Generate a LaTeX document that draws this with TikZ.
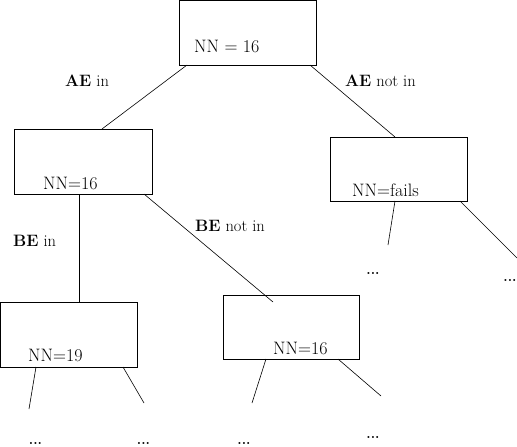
\documentclass[tikz,border=0pt]{standalone}
\begin{document}
\begin{tikzpicture}[x=1pt,y=-1pt,
  box/.style={draw,line width=0.8pt,rectangle,inner sep=0pt},
  conn/.style={line width=0.6pt},
  val/.style={anchor=base west,inner sep=0pt,font=\fontsize{18}{20}\selectfont},
  lab/.style={anchor=base west,inner sep=0pt,font=\fontsize{16.5}{19}\selectfont},
  dots/.style={inner sep=0pt,font=\fontsize{14}{16}\selectfont\bfseries}]
\useasboundingbox (0,0) rectangle (517,447);
% boxes
\node[box,minimum width=137pt,minimum height=64.5pt] (root) at (247.5,32.8) {};
\node[box,minimum width=138pt,minimum height=65pt] (L) at (83,161.5) {};
\node[box,minimum width=137pt,minimum height=64pt] (R) at (398.5,169) {};
\node[box,minimum width=136.5pt,minimum height=65pt] (LL) at (68.7,334.5) {};
\node[box,minimum width=136pt,minimum height=64pt] (LR) at (291,327) {};
% texts in boxes
\node[val] (troot) at (194,52) {NN = 16};
\node[val] (tL) at (43,189) {NN=16};
\node[val] (tR) at (352,196) {NN=fails};
\node[val] (tLL) at (28,361) {NN=19};
\node[val] (tLR) at (273,354) {NN=16};
% edge labels
\node[lab] (l1) at (65,86) {\textbf{AE} in};
\node[lab] (l2) at (345,86) {\textbf{AE} not in};
\node[lab] (l3) at (13,246) {\textbf{BE} in};
\node[lab] (l4) at (195,231) {\textbf{BE} not in};
% connector end points
\coordinate (a1) at (187,65);  \coordinate (a2) at (102,129);
\coordinate (b1) at (310,65);  \coordinate (b2) at (395,137);
\coordinate (c1) at (79,194);  \coordinate (c2) at (79,302);
\coordinate (d1) at (144,194); \coordinate (d2) at (273,302);
\coordinate (e1) at (395,201); \coordinate (e2) at (388,245);
\coordinate (f1) at (460,201); \coordinate (f2) at (517,258);
\coordinate (g1) at (36,367);  \coordinate (g2) at (29,409);
\coordinate (h1) at (123,367); \coordinate (h2) at (144,403);
\coordinate (i1) at (266,359); \coordinate (i2) at (252,403);
\coordinate (j1) at (338,359); \coordinate (j2) at (381,396);
\draw[conn] (a1) -- (a2);
\draw[conn] (b1) -- (b2);
\draw[conn] (c1) -- (c2);
\draw[conn] (d1) -- (d2);
\draw[conn] (e1) -- (e2);
\draw[conn] (f1) -- (f2);
\draw[conn] (g1) -- (g2);
\draw[conn] (h1) -- (h2);
\draw[conn] (i1) -- (i2);
\draw[conn] (j1) -- (j2);
% dots
\node[dots] (d_R1) at (373,273) {...};
\node[dots] (d_R2) at (510,280) {...};
\node[dots] (d_LL1) at (35.5,443) {...};
\node[dots] (d_LL2) at (143.5,443) {...};
\node[dots] (d_LR1) at (244,443) {...};
\node[dots] (d_LR2) at (373,437) {...};
\end{tikzpicture}
\end{document}
